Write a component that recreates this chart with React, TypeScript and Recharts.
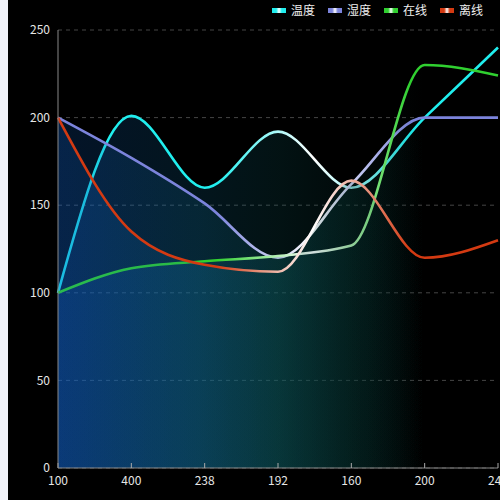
import React from 'react';
import { AreaChart, Area, XAxis, YAxis, CartesianGrid } from 'recharts';

const categories = ['100', '400', '238', '192', '160', '200', '240'];
const wendu = [100, 201, 160, 192, 160, 200, 240];
const shidu = [200, 177, 151, 120, 162, 200, 200];
const zaixian = [100, 114, 118, 121, 127, 230, 224];
const lixian = [200, 135, 116, 112, 164, 120, 130];
const yTicks = [0, 50, 100, 150, 200, 250];

const series = [
  { key: 'wendu', name: '温度', color: '#20eeee', values: wendu },
  { key: 'shidu', name: '湿度', color: '#7c84dc', values: shidu },
  { key: 'zaixian', name: '在线', color: '#30d030', values: zaixian },
  { key: 'lixian', name: '离线', color: '#d43a12', values: lixian },
];

const data = categories.map((c, i) => {
  const row: Record<string, string | number> = { name: c };
  series.forEach((s) => {
    row[s.key] = s.values[i];
  });
  return row;
});

const font = '"Noto Sans CJK SC", "Noto Sans", sans-serif';

const App: React.FC = () => {
  return (
    <div style={{ position: 'fixed', inset: 0, background: '#f1f3f9' }}>
      <div
        style={{
          position: 'absolute',
          left: 8,
          top: 0,
          width: 492,
          height: 500,
          overflow: 'hidden',
          background: '#000',
          fontFamily: font,
        }}
      >
        <AreaChart width={500} height={500} data={data} margin={{ top: 30, right: 10, bottom: 2, left: 0 }}>
          <defs>
            <linearGradient id="areaFill" x1="0" y1="0" x2="1" y2="0">
              <stop offset="0" stopColor="#1162cb" stopOpacity={0.2} />
              <stop offset="0.32" stopColor="#106b94" stopOpacity={0.2} />
              <stop offset="0.5" stopColor="#0d5c62" stopOpacity={0.2} />
              <stop offset="0.66" stopColor="#073a38" stopOpacity={0.18} />
              <stop offset="0.83" stopColor="#073a38" stopOpacity={0} />
            </linearGradient>
            {series.map((s) => (
              <linearGradient key={s.key} id={`line-${s.key}`} x1="0" y1="0" x2="1" y2="0">
                <stop offset="0" stopColor={s.color} />
                <stop offset="0.36" stopColor={s.color} />
                <stop offset="0.58" stopColor="#ffffff" />
                <stop offset="0.8" stopColor={s.color} />
                <stop offset="1" stopColor={s.color} />
              </linearGradient>
            ))}
          </defs>
          <CartesianGrid vertical={false} stroke="#454545" strokeDasharray="4 4" />
          <XAxis
            dataKey="name"
            stroke="#888"
            tickSize={-5}
            tickMargin={13}
            tick={{ fill: '#e6e6e6', fontSize: 12, fontFamily: font }}
            tickLine={{ stroke: '#aaa' }}
          />
          <YAxis
            width={50}
            domain={[0, 250]}
            ticks={yTicks}
            stroke="#888"
            tickLine={false}
            tick={{ fill: '#e6e6e6', fontSize: 12, fontFamily: font }}
          />
          {series.map((s) => (
            <Area
              key={s.key}
              type="monotone"
              dataKey={s.key}
              name={s.name}
              stroke={`url(#line-${s.key})`}
              strokeWidth={2.6}
              fill="url(#areaFill)"
              fillOpacity={1}
              dot={false}
              activeDot={false}
              isAnimationActive={false}
            />
          ))}
        </AreaChart>
        <div style={{ position: 'absolute', top: 3, left: 264, display: 'flex', alignItems: 'center' }}>
          {series.map((s) => (
            <div key={s.key} style={{ display: 'flex', alignItems: 'center', marginRight: 13 }}>
              <span
                style={{
                  display: 'inline-block',
                  width: 14,
                  height: 5,
                  marginRight: 5,
                  background: `linear-gradient(to right, ${s.color} 0%, ${s.color} 30%, #ffffff 50%, ${s.color} 70%, ${s.color} 100%)`,
                }}
              />
              <span style={{ color: '#f0f0f0', fontSize: 12, lineHeight: '14px' }}>{s.name}</span>
            </div>
          ))}
        </div>
      </div>
    </div>
  );
};

export default App;
